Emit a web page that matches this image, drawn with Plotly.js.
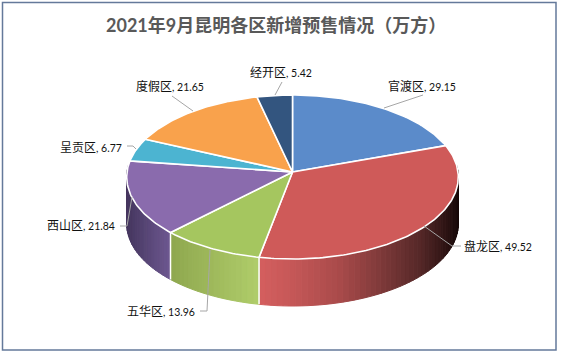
<!DOCTYPE html>
<html>
<head>
<meta charset="utf-8">
<script src="https://cdn.plot.ly/plotly-3.0.1.min.js"></script>
<style>html,body{margin:0;padding:0;background:#fff}#chart{width:562px;height:355px}</style>
</head>
<body>
<div id="chart"></div>
<script>
// Data, clockwise from the top of the pie
const categories = ['官渡区', '盘龙区', '五华区', '西山区', '呈贡区', '度假区', '经开区'];
const values = [29.15, 49.52, 13.96, 21.84, 6.77, 21.65, 5.42];
const titleText = '2021年9月昆明各区新增预售情况（万方）';

// Styles
const topColors = ['#5B8BCA', '#CF5A59', '#A5C65F', '#8A6BAD', '#4CB4D1', '#F9A24C', '#33557F'];
const wallStops = {
  1: [[259, [212, 95, 95]], [290, [198, 88, 88]], [340, [168, 74, 74]], [380, [127, 58, 58]], [420, [85, 40, 40]], [445, [46, 20, 20]], [459, [20, 7, 7]]],
  2: [[172, [143, 168, 79]], [259, [176, 205, 106]]],
  3: [[127, [70, 54, 95]], [172, [111, 90, 147]]]
};
// label text box left edge / vertical centre, leader polyline
const labelLayout = [
  {x: 387, y: 86,  lx: [423, 384], ly: [95, 108]},
  {x: 463, y: 246, lx: [461, 452, 424], ly: [246, 246, 226]},
  {x: 126, y: 311, lx: [200, 207, 210], ly: [311, 311, 250]},
  {x: 46,  y: 225, lx: [120, 127, 132], ly: [226, 226, 197]},
  {x: 59,  y: 147, lx: [127, 133, 136], ly: [146, 146, 149]},
  {x: 135, y: 86,  lx: [172, 193], ly: [96, 111]},
  {x: 249, y: 72,  lx: [282, 275], ly: [82, 95]}
];

// Projection of the tilted disc
const cx = 292.5, cy = 172, ra = 165.5, rb = 81.7, persp = 0.061, depth = 47;
function project(theta) {
  const u = Math.sin(theta), v = -Math.cos(theta), w = 1 - persp * v;
  return [cx + ra * u / w, cy + rb * v / w];
}
function wallColor(stops, x) {
  if (x <= stops[0][0]) return stops[0][1];
  for (let i = 1; i < stops.length; i++) {
    if (x <= stops[i][0]) {
      const a = stops[i - 1], b = stops[i], t = (x - a[0]) / (b[0] - a[0]);
      return a[1].map((c, k) => Math.round(c + (b[1][k] - c) * t));
    }
  }
  return stops[stops.length - 1][1];
}

const total = values.reduce((a, b) => a + b, 0);
const traces = [];
const bounds = [0];
values.forEach(val => bounds.push(bounds[bounds.length - 1] + val / total * 2 * Math.PI));

const STEP = 2 * Math.PI / 180;
const base = {type: 'scatter', mode: 'lines', hoverinfo: 'skip', showlegend: false, fill: 'toself'};

// Side walls
values.forEach((val, i) => {
  if (!wallStops[i]) return;
  const start = Math.max(bounds[i], Math.PI * 0.47), end = Math.min(bounds[i + 1], Math.PI * 1.53);
  const n = Math.max(1, Math.ceil((end - start) / STEP));
  for (let s = 0; s < n; s++) {
    const p = project(start + (end - start) * s / n), q = project(start + (end - start) * (s + 1) / n);
    const c = wallColor(wallStops[i], (p[0] + q[0]) / 2);
    const col = 'rgb(' + c.join(',') + ')';
    traces.push(Object.assign({}, base, {
      x: [p[0], q[0], q[0], p[0], p[0]],
      y: [p[1], q[1], q[1] + depth, p[1] + depth, p[1]],
      fillcolor: col, line: {color: col, width: 1}
    }));
  }
});
// White seams between walls
[2, 3].forEach(i => {
  const p = project(bounds[i]);
  traces.push({type: 'scatter', mode: 'lines', hoverinfo: 'skip', showlegend: false,
    x: [p[0], p[0]], y: [p[1], p[1] + depth], line: {color: '#ffffff', width: 1.5}});
});

// Top wedges
values.forEach((val, i) => {
  const xs = [cx], ys = [cy];
  const n = Math.max(2, Math.ceil((bounds[i + 1] - bounds[i]) / (STEP / 2)));
  for (let s = 0; s <= n; s++) {
    const p = project(bounds[i] + (bounds[i + 1] - bounds[i]) * s / n);
    xs.push(p[0]); ys.push(p[1]);
  }
  xs.push(cx); ys.push(cy);
  traces.push(Object.assign({}, base, {x: xs, y: ys, fillcolor: topColors[i], line: {color: '#ffffff', width: 1.6}}));
});

// Leader lines
labelLayout.forEach(l => traces.push({type: 'scatter', mode: 'lines', hoverinfo: 'skip', showlegend: false,
  x: l.lx, y: l.ly, line: {color: '#a6a6a6', width: 1}}));

const annotations = categories.map((name, i) => ({
  xref: 'x', yref: 'y', x: labelLayout[i].x, y: labelLayout[i].y,
  xanchor: 'left', yanchor: 'middle', showarrow: false, borderpad: 0, align: 'left',
  text: name + '<span style="font-size:10.5px">, ' + values[i].toFixed(2) + '</span>',
  font: {family: 'Lato, "Noto Sans CJK SC", sans-serif', size: 12, color: '#111111'}
}));
annotations.push({
  xref: 'x', yref: 'y', x: 276, y: 24.5, xanchor: 'center', yanchor: 'middle', showarrow: false,
  text: '<b>' + titleText + '</b>',
  font: {family: 'Lato, "Noto Sans CJK SC", sans-serif', size: 18, color: '#595959'}
});

const layout = {
  width: 562, height: 355, margin: {l: 0, r: 0, t: 0, b: 0},
  paper_bgcolor: '#ffffff', plot_bgcolor: '#ffffff', showlegend: false,
  xaxis: {range: [0, 562], visible: false, fixedrange: true},
  yaxis: {range: [355, 0], visible: false, fixedrange: true},
  annotations: annotations,
  shapes: [{type: 'rect', xref: 'x', yref: 'y', x0: 2.5, y0: 2.5, x1: 556, y1: 350,
    line: {color: '#64799A', width: 1.5}, fillcolor: 'rgba(0,0,0,0)', layer: 'below'}]
};
Plotly.newPlot('chart', traces, layout, {displayModeBar: false, staticPlot: true});
</script>
</body>
</html>
